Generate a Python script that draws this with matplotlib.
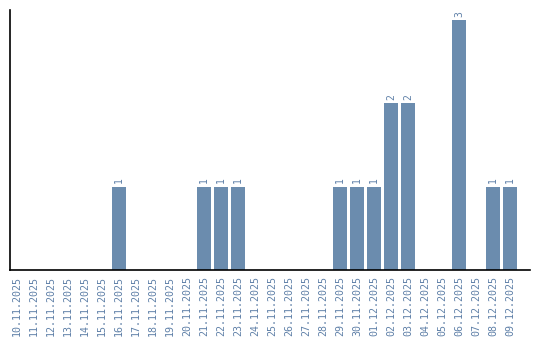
import matplotlib.pyplot as plt

# Daily counts, 10.11.2025 - 09.12.2025
dates = ['10.11.2025', '11.11.2025', '12.11.2025', '13.11.2025', '14.11.2025',
         '15.11.2025', '16.11.2025', '17.11.2025', '18.11.2025', '19.11.2025',
         '20.11.2025', '21.11.2025', '22.11.2025', '23.11.2025', '24.11.2025',
         '25.11.2025', '26.11.2025', '27.11.2025', '28.11.2025', '29.11.2025',
         '30.11.2025', '01.12.2025', '02.12.2025', '03.12.2025', '04.12.2025',
         '05.12.2025', '06.12.2025', '07.12.2025', '08.12.2025', '09.12.2025']
counts = [0, 0, 0, 0, 0, 0, 1, 0, 0, 0,
          0, 1, 1, 1, 0, 0, 0, 0, 0, 1,
          1, 1, 2, 2, 0, 0, 3, 0, 1, 1]

bar_color = '#6b8cae'
text_color = '#5f80a8'

fig = plt.figure(figsize=(5.4, 3.4), dpi=100)
ax = fig.add_axes([10 / 540, 70 / 340, 520 / 540, 260 / 340])

x = list(range(len(dates)))
ax.bar(x, counts, width=0.82, color=bar_color)

# value labels above non-empty bars
for xi, c in zip(x, counts):
    if c > 0:
        ax.text(xi, c + 0.04, str(c), rotation=90, ha='center', va='bottom',
                fontsize=7, color=text_color, family='DejaVu Sans Mono')

ax.set_xlim(-0.41, 30.18)
ax.set_ylim(0, 3.12)
ax.set_xticks(x)
ax.set_xticklabels(dates, rotation=90, fontsize=7.2, color=text_color,
                   family='DejaVu Sans Mono')
ax.tick_params(axis='x', length=0, pad=4)
ax.set_yticks([])
ax.spines['top'].set_visible(False)
ax.spines['right'].set_visible(False)
ax.spines['left'].set_linewidth(1.2)
ax.spines['bottom'].set_linewidth(1.2)

fig.savefig('out.png', dpi=100)
